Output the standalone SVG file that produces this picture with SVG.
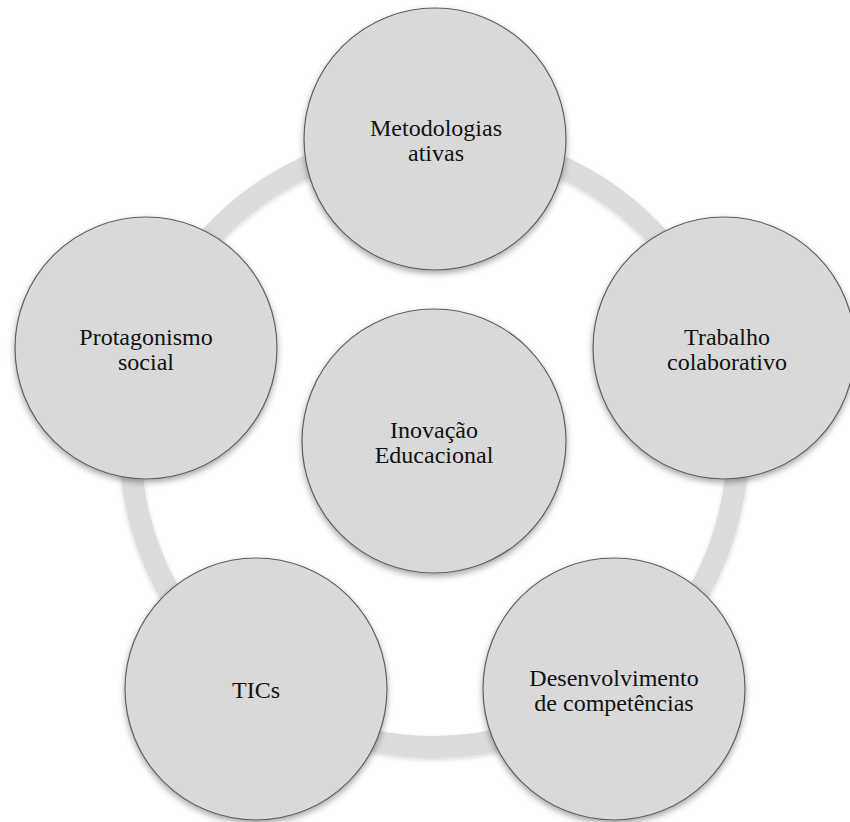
<svg xmlns="http://www.w3.org/2000/svg" width="850" height="822" viewBox="0 0 850 822">
  <defs>
    <filter id="sh" x="-20%" y="-20%" width="140%" height="140%">
      <feDropShadow dx="0" dy="3" stdDeviation="3" flood-color="#000" flood-opacity="0.35"/>
    </filter>
    <filter id="rsh" x="-10%" y="-10%" width="120%" height="120%">
      <feDropShadow dx="0" dy="2" stdDeviation="2" flood-color="#000" flood-opacity="0.15"/>
    </filter>
  </defs>
  <style>
    .node circle { fill: #d9d9d9; stroke: #5f5f5f; stroke-width: 1.2; filter: url(#sh); }
    .node text { font-family: 'Liberation Serif', 'Times New Roman', serif; font-size: 24px; fill: #111; text-anchor: middle; }
    .ring { fill: none; stroke: #dcdcdc; stroke-width: 22; filter: url(#rsh); }
  </style>
  <rect width="850" height="822" fill="#fff"/>
  <g id="connectors">
    <circle class="ring" cx="434" cy="443" r="304"/>
  </g>
  <g id="n-metodologias" class="node">
    <circle cx="435" cy="139" r="131"/>
    <text x="436" y="136">Metodologias</text>
    <text x="436" y="161">ativas</text>
  </g>
  <g id="n-trabalho" class="node">
    <circle cx="724" cy="348" r="131"/>
    <text x="727" y="345">Trabalho</text>
    <text x="727" y="370">colaborativo</text>
  </g>
  <g id="n-desenvolvimento" class="node">
    <circle cx="614" cy="689" r="131"/>
    <text x="614" y="686">Desenvolvimento</text>
    <text x="614" y="711">de competências</text>
  </g>
  <g id="n-tics" class="node">
    <circle cx="256" cy="689" r="131"/>
    <text x="256" y="698">TICs</text>
  </g>
  <g id="n-protagonismo" class="node">
    <circle cx="146" cy="348" r="131"/>
    <text x="146" y="345">Protagonismo</text>
    <text x="146" y="370">social</text>
  </g>
  <g id="n-inovacao" class="node">
    <circle cx="434" cy="441" r="132"/>
    <text x="434" y="438">Inovação</text>
    <text x="434" y="463">Educacional</text>
  </g>
</svg>
